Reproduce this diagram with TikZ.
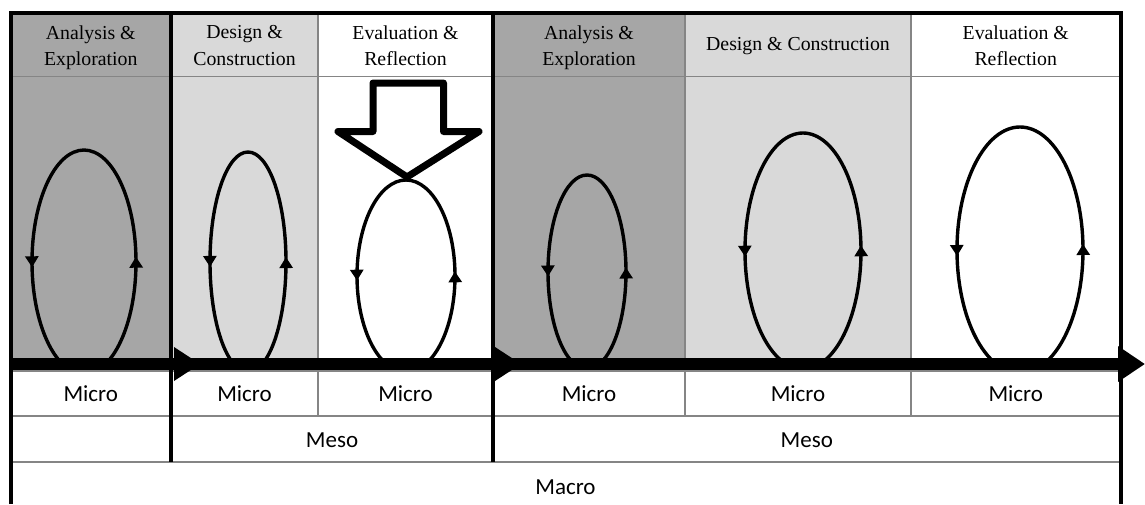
\documentclass[tikz,border=0pt]{standalone}
\usepackage{fontspec}
\setmainfont{Liberation Serif}
\newfontfamily\lvlfont{Carlito}
\usetikzlibrary{arrows.meta,decorations.markings}
\definecolor{cdark}{HTML}{A6A6A6}
\definecolor{clight}{HTML}{D9D9D9}
\definecolor{cgrid}{HTML}{858585}
\begin{document}
\begin{tikzpicture}[x=1pt,y=-1pt,
  hdr/.style={font=\fontsize{19.8}{26.5}\selectfont, align=center, inner sep=0pt, anchor=north},
  hdrone/.style={font=\fontsize{19.8}{26.5}\selectfont, inner sep=0pt, anchor=base},
  lvl/.style={font=\lvlfont\fontsize{23}{27}\selectfont, inner sep=0pt, anchor=base},
  gridline/.style={draw=cgrid, line width=1.5pt},
  frameline/.style={draw=black, line width=4pt},
  loopline/.style={line width=3.4pt, postaction={decorate},
    decoration={markings,
      mark=at position 0.26 with {\arrow{Triangle[length=11pt,width=13pt]}},
      mark=at position 0.76 with {\arrow{Triangle[length=11pt,width=13pt]}}}},
  timeline/.style={line width=12pt, -{Triangle[length=27pt,width=34pt]}},
  bigarrow/.style={line width=7pt, line join=round, fill=white}
]
\useasboundingbox (0,0) rectangle (1145,504);

% column fills
\fill[cdark]  (10.5,13) rectangle (171,364);
\fill[clight] (171,13) rectangle (318,364);
\fill[white]  (318,13) rectangle (493,364);
\fill[cdark]  (493,13) rectangle (685,364);
\fill[clight] (685,13) rectangle (911,364);
\fill[white]  (911,13) rectangle (1120.5,364);

% thin grid
\draw[gridline] (10.5,76.5) -- (1120.5,76.5);
\draw[gridline] (318,13) -- (318,416);
\draw[gridline] (685,13) -- (685,416);
\draw[gridline] (911,13) -- (911,416);
\draw[gridline] (10.5,371) -- (1120.5,371);
\draw[gridline] (10.5,416) -- (1120.5,416);
\draw[gridline] (10.5,462) -- (1120.5,462);

% loops
\begin{scope}
  \clip (10,13) rectangle (1121,364);
  \foreach \cx/\cy/\rx/\ry in {84/262/52/112, 248/262/38/110, 406/276/49/96,
                               587/272/39/97, 803/251/58/118, 1020/250/63/123}
    \draw[loopline] (\cx,\cy+\ry) arc[start angle=-90, end angle=270, x radius=\rx pt, y radius=\ry pt];
\end{scope}

% big down arrow
\draw[bigarrow] (373,83) -- (443.5,83) -- (443.5,131.5) -- (479,131.5) -- (407,177) -- (338,131.5) -- (373,131.5) -- cycle;

% timeline
\coordinate (tstart) at (10,364);
\coordinate (tend) at (1145,364);
\draw[timeline] (tstart) -- (tend);
\coordinate (mA) at (174,364);
\coordinate (mB) at (495,364);
\fill (mA) ++(0,-17) -- ++(26,17) -- ++(-26,17) -- cycle;
\fill (mB) ++(0,-17) -- ++(26,17) -- ++(-26,17) -- cycle;

% frame
\draw[frameline] (10.5,504) -- (10.5,13) -- (1120.5,13) -- (1120.5,504);
\draw[frameline] (171,13) -- (171,462);
\draw[frameline] (493,13) -- (493,462);

% headers
\node[hdr] (h1) at (90.75,25.5) {Analysis \&\\Exploration};
\node[hdr] (h2) at (244.5,25.5) {Design \&\\Construction};
\node[hdr] (h3) at (405.5,25.5) {Evaluation \&\\Reflection};
\node[hdr] (h4) at (589,25.5) {Analysis \&\\Exploration};
\node[hdrone] (h5) at (798,50) {Design \& Construction};
\node[hdr] (h6) at (1015.75,25.5) {Evaluation \&\\Reflection};

% levels
\node[lvl] (mi1) at (90.75,401) {Micro};
\node[lvl] (mi2) at (244.5,401) {Micro};
\node[lvl] (mi3) at (405.5,401) {Micro};
\node[lvl] (mi4) at (589,401) {Micro};
\node[lvl] (mi5) at (798,401) {Micro};
\node[lvl] (mi6) at (1015.75,401) {Micro};
\node[lvl] (me1) at (332,447) {Meso};
\node[lvl] (me2) at (806.75,447) {Meso};
\node[lvl] (ma) at (565.5,494) {Macro};
\end{tikzpicture}
\end{document}
